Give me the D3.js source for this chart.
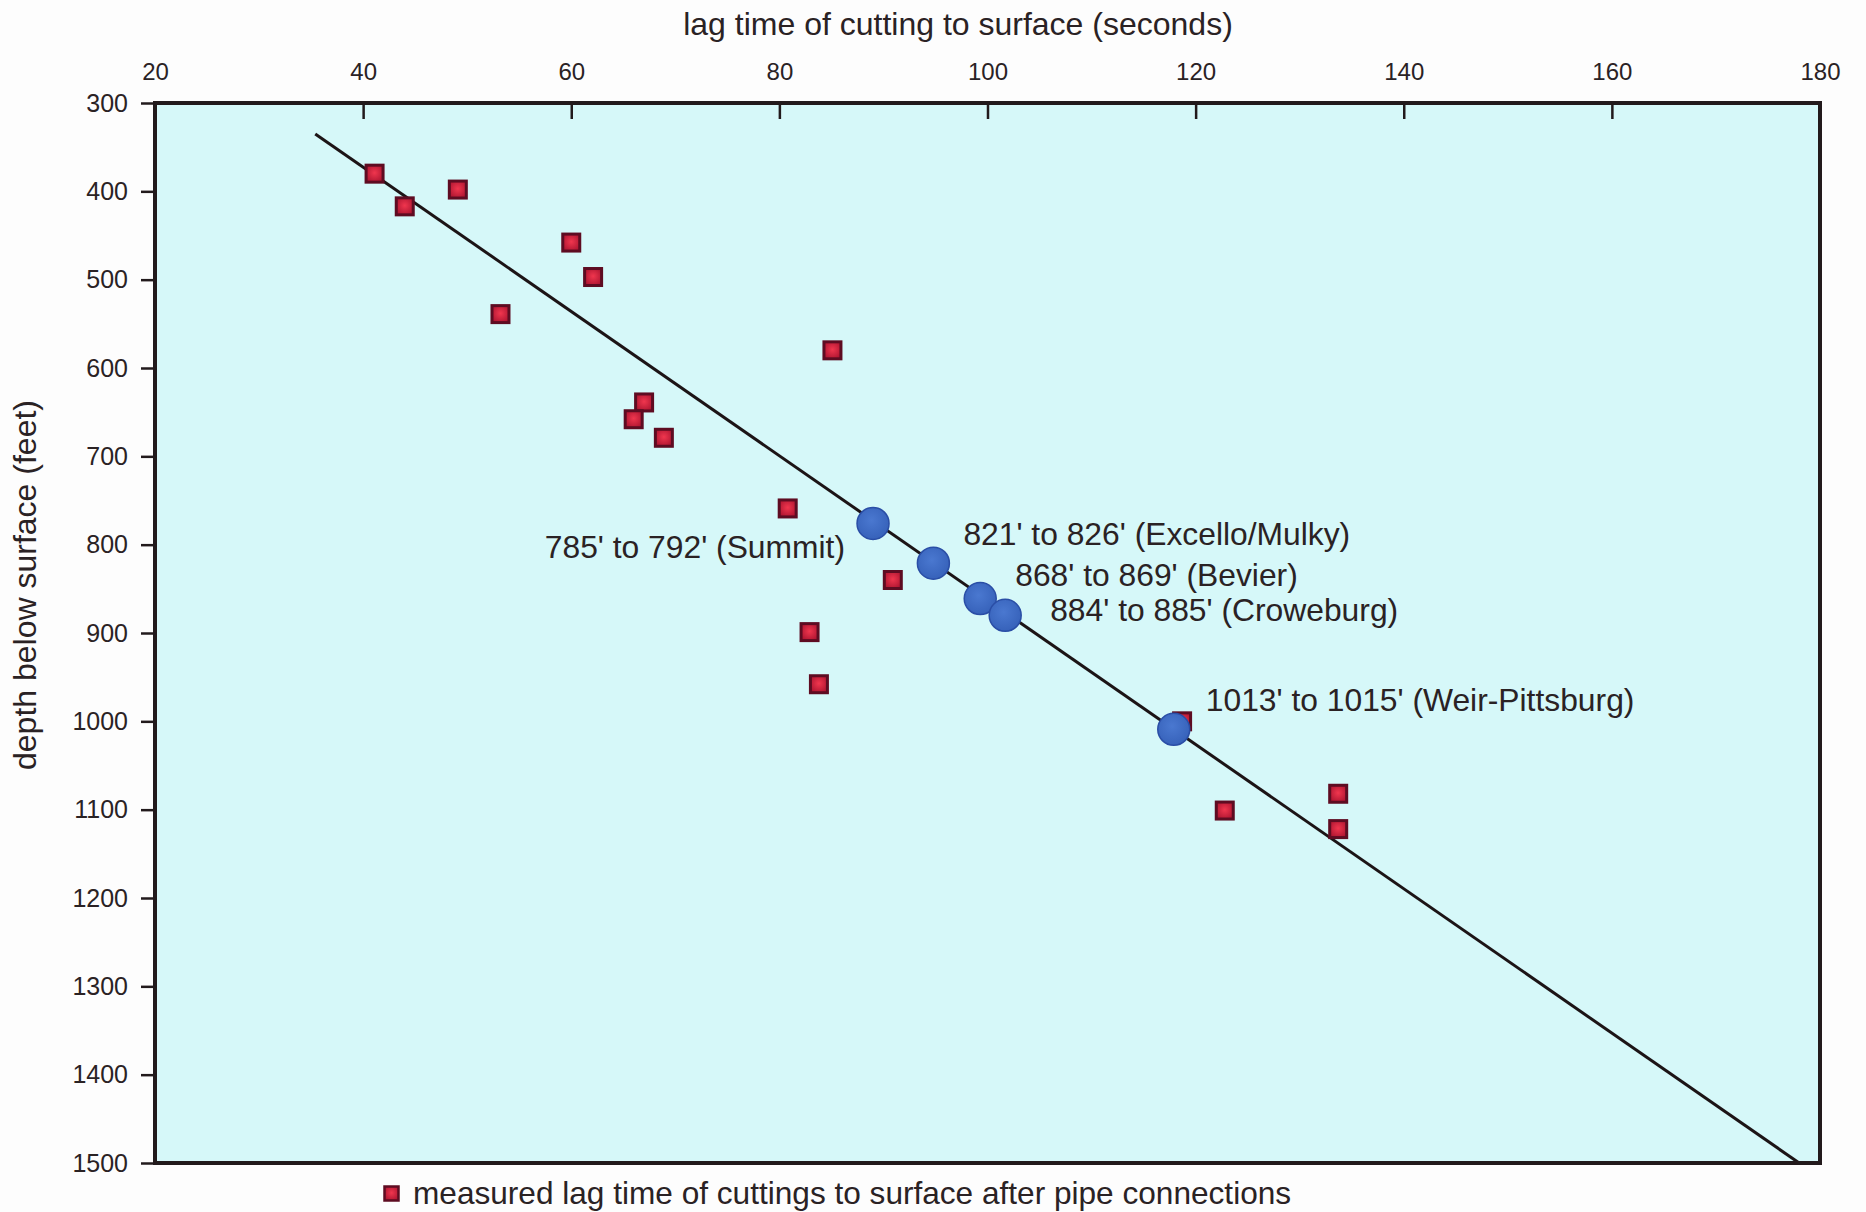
<!DOCTYPE html>
<html><head><meta charset="utf-8">
<script src="https://cdn.jsdelivr.net/npm/d3@7"></script>
<style>
body{margin:0;background:#fdfdfd;}
text{font-family:"Liberation Sans", Arial, Helvetica, sans-serif;fill:#2a2224;}
</style>
</head><body>
<svg id="chart" width="1866" height="1212"></svg>
<script>
// ---- data ----
const xTicks = [20, 40, 60, 80, 100, 120, 140, 160, 180];
const yTicks = [300, 400, 500, 600, 700, 800, 900, 1000, 1100, 1200, 1300, 1400, 1500];
const measuredLag   = [41.1, 44.0, 49.1, 60.0, 62.1, 53.2, 85.1, 67.0, 66.0, 68.9, 80.8, 90.9, 82.9, 83.8, 122.8, 133.7, 133.7, 118.7];
const measuredDepth = [380, 417, 398, 458, 497, 539, 580, 639, 658, 679, 759, 840, 899, 958, 1101, 1082, 1122, 1000];
const zoneNames = ["785' to 792' (Summit)", "821' to 826' (Excello/Mulky)", "868' to 869' (Bevier)", "884' to 885' (Croweburg)", "1013' to 1015' (Weir-Pittsburg)"];
const zoneLag   = [89.0, 94.8, 99.3, 101.7, 117.9];
const zoneDepth = [776, 821, 861, 880, 1009];
const trendLag   = [35.4, 178.0];
const trendDepth = [335, 1500];
const xTitle = "lag time of cutting to surface (seconds)";
const yTitle = "depth below surface (feet)";
const legendText = "measured lag time of cuttings to surface after pipe connections";

// ---- layout ----
const L = 155, R = 1820, T = 103, B = 1163;
const zoneLabelLayout = [
  {dx: -28, dy: 35, anchor: "end"},
  {dx: 30, dy: -18, anchor: "start"},
  {dx: 35, dy: -13, anchor: "start"},
  {dx: 45, dy: 6, anchor: "start"},
  {dx: 32, dy: -18, anchor: "start"}
];

const svg = d3.select("#chart");
const x = d3.scaleLinear().domain([20, 180]).range([L, R]);
const y = d3.scaleLinear().domain([300, 1500]).range([T, B]);

const defs = svg.append("defs");
const rg = defs.append("radialGradient").attr("id", "sqGrad").attr("cx", "50%").attr("cy", "45%").attr("r", "65%");
rg.append("stop").attr("offset", "0%").attr("stop-color", "#f0364e");
rg.append("stop").attr("offset", "100%").attr("stop-color", "#a8122e");
const bg = defs.append("radialGradient").attr("id", "ciGrad").attr("cx", "45%").attr("cy", "40%").attr("r", "65%");
bg.append("stop").attr("offset", "0%").attr("stop-color", "#4a78d0");
bg.append("stop").attr("offset", "100%").attr("stop-color", "#3560b8");

// plot background
svg.append("rect").attr("x", L).attr("y", T).attr("width", R - L).attr("height", B - T)
  .attr("fill", "#d6f8f9");

// trend line
const trend = trendLag.map((v, i) => [v, trendDepth[i]]);
svg.append("path").datum(trend)
  .attr("d", d3.line().x(d => x(d[0])).y(d => y(d[1])))
  .attr("stroke", "#1c1416").attr("stroke-width", 3).attr("fill", "none");

// measured squares
const sq = 17;
svg.append("g").selectAll("rect").data(measuredLag.map((v, i) => [v, measuredDepth[i]]))
  .join("rect")
  .attr("x", d => x(d[0]) - sq / 2).attr("y", d => y(d[1]) - sq / 2)
  .attr("width", sq).attr("height", sq)
  .attr("fill", "url(#sqGrad)").attr("stroke", "#5e0c22").attr("stroke-width", 3);

// zone circles
svg.append("g").selectAll("circle").data(zoneLag.map((v, i) => [v, zoneDepth[i]]))
  .join("circle")
  .attr("cx", d => x(d[0])).attr("cy", d => y(d[1])).attr("r", 16)
  .attr("fill", "url(#ciGrad)").attr("stroke", "#2a4ea6").attr("stroke-width", 1.5);

// zone labels
svg.append("g").selectAll("text").data(zoneNames)
  .join("text")
  .attr("x", (d, i) => x(zoneLag[i]) + zoneLabelLayout[i].dx)
  .attr("y", (d, i) => y(zoneDepth[i]) + zoneLabelLayout[i].dy)
  .attr("text-anchor", (d, i) => zoneLabelLayout[i].anchor)
  .attr("font-size", 31.8)
  .text(d => d);

// frame
svg.append("rect").attr("x", L).attr("y", T).attr("width", R - L).attr("height", B - T)
  .attr("fill", "none").attr("stroke", "#221a1c").attr("stroke-width", 4);

// top axis
const gx = svg.append("g").attr("transform", `translate(0,${T})`)
  .call(d3.axisTop(x).tickValues(xTicks).tickFormat(d3.format("d")).tickSize(-16).tickPadding(23));
gx.select(".domain").remove();
gx.selectAll(".tick line").attr("stroke", "#221a1c").attr("stroke-width", 2.5)
  .attr("display", d => (d === 20 || d === 180) ? "none" : null);
gx.selectAll(".tick text").attr("font-size", 24).attr("fill", "#2a2224").attr("font-family", null);

// left axis
const gy = svg.append("g").attr("transform", `translate(${L},0)`)
  .call(d3.axisLeft(y).tickValues(yTicks).tickFormat(d3.format("d")).tickSize(14).tickPadding(13));
gy.select(".domain").remove();
gy.selectAll(".tick line").attr("stroke", "#221a1c").attr("stroke-width", 2.5);
gy.selectAll(".tick text").attr("font-size", 25).attr("fill", "#2a2224").attr("font-family", null);

// titles
svg.append("text").attr("x", 958).attr("y", 35).attr("text-anchor", "middle")
  .attr("font-size", 32).text(xTitle);
svg.append("text").attr("transform", "translate(36,585) rotate(-90)").attr("text-anchor", "middle")
  .attr("font-size", 32).text(yTitle);

// legend
svg.append("rect").attr("x", 391.5 - 7).attr("y", 1193.5 - 7).attr("width", 14).attr("height", 14)
  .attr("fill", "url(#sqGrad)").attr("stroke", "#5e0c22").attr("stroke-width", 2.5);
svg.append("text").attr("x", 413).attr("y", 1204).attr("font-size", 31.6).text(legendText);
</script>
</body></html>
